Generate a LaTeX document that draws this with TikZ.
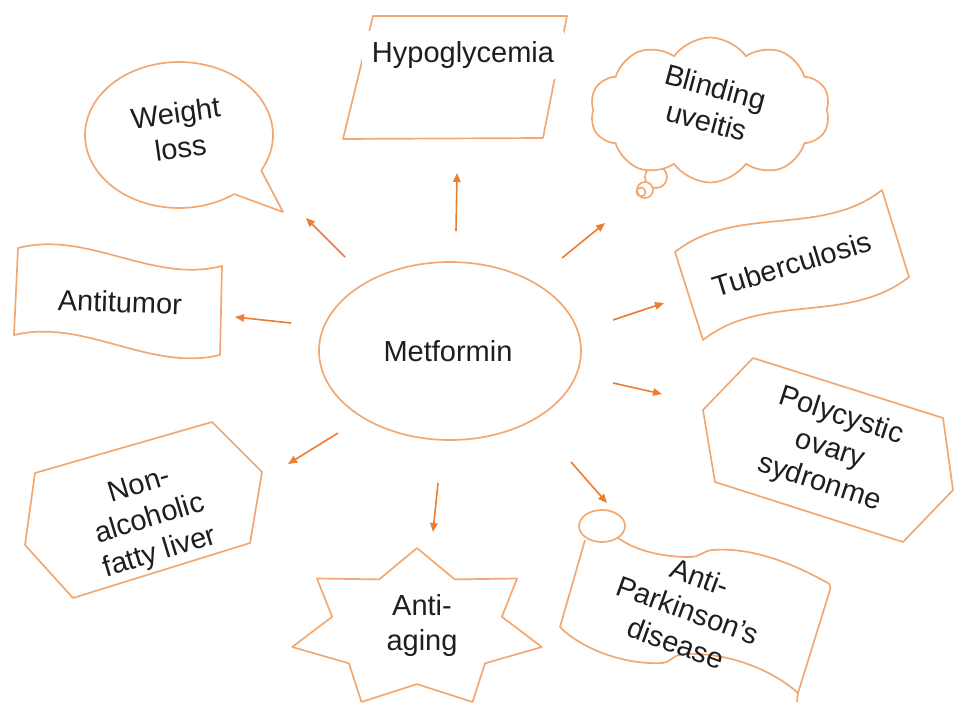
\documentclass[tikz,border=0pt]{standalone}
\usepackage{fontspec}
\setmainfont{Liberation Sans}
\usetikzlibrary{arrows.meta,shapes.geometric,shapes.symbols}
\definecolor{shapeorange}{RGB}{242,168,114}
\definecolor{arroworange}{RGB}{237,125,49}
\definecolor{txtgray}{RGB}{30,30,30}
\begin{document}
\begin{tikzpicture}[x=1pt,y=-1pt,
  outline/.style={draw=shapeorange,line width=1.7pt,line join=round},
  lbl/.style={text=txtgray,font=\fontsize{29}{35}\selectfont,align=center,inner sep=0pt},
  conn/.style={draw=arroworange,line width=1.6pt,-{Triangle[length=9pt,width=7.5pt]}}]
\useasboundingbox (0,0) rectangle (969,717);

% Metformin
\node[outline,ellipse,minimum width=262pt,minimum height=178pt,lbl] (met) at (450,351) {};
\node[lbl] (mettxt) at (448,351) {Metformin};

% Hypoglycemia
\draw[outline] (373,16) -- (567,16) -- (543,138) -- (343,139) -- cycle;
\node[lbl,fill=white,minimum height=48pt,inner xsep=10pt] (hypo) at (463,55) {Hypoglycemia};

% Weight loss bubble
\draw[outline] plot[domain=-306:29,samples=90] ({179+94*cos(\x)},{135+73*sin(\x)}) -- (283,212) -- cycle;
\node[lbl,rotate=8] (wl) at (178,130) {Weight\\loss};

% Blinding uveitis cloud
\draw[outline,fill=white] (656,177) circle[radius=11pt];
\draw[outline,fill=white] (645,190) circle[radius=8pt];
\draw[outline] (641,192) circle[radius=4.5pt];
\node[cloud,outline,fill=white,cloud puffs=10,cloud puff arc=110,aspect=1.65,minimum width=240pt,minimum height=145pt,inner sep=0pt] (cloudshape) at (710,110) {};
\node[lbl,rotate=-15] (bu) at (711,104) {Blinding\\uveitis};

% Tuberculosis wave
\draw[outline] (675,252) .. controls (736,204) and (821,238) .. (882,190) -- (909,277) .. controls (848,325) and (764,292) .. (703,340) -- cycle;
\node[lbl,rotate=17] (tb) at (792,264) {Tuberculosis};

% Antitumor wave
\draw[outline] (18,248) .. controls (88,230) and (152,284) .. (222,266) -- (220,355) .. controls (149,372) and (85,318) .. (14,335) -- cycle;
\node[lbl,rotate=-2] (at) at (120,302) {Antitumor};

% Polycystic hexagon
\draw[outline] (753,358) -- (943,418) -- (953,490) -- (903,542) -- (715,482) -- (703,410) -- cycle;
\node[lbl,rotate=-18] (pcos) at (830,450) {Polycystic\\ovary\\sydronme};

% Non-alcoholic hexagon
\draw[outline] (212,422) -- (262,472) -- (250,543) -- (73,598) -- (25,545) -- (35,473) -- cycle;
\node[lbl,rotate=17] (nafld) at (150,520) {Non-\\alcoholic\\fatty liver};

% Anti-aging star
\draw[outline] plot[samples at={0,...,13},variable=\k] ({417+(1-0.32*mod(\k,2))*128*cos(90+\k*180/7)},{629-(1-0.32*mod(\k,2))*81*sin(90+\k*180/7)}) -- cycle;
\node[lbl] (aa) at (422,625) {Anti-\\aging};

% Anti-Parkinson scroll
\draw[outline] (585,540) -- (560,627) .. controls (585,652) and (630,665) .. (662,663) .. controls (672,662) and (672,655) .. (684,654) .. controls (725,652) and (770,668) .. (798,693) -- (830,590) .. controls (831,585) and (829,583) .. (826,582) .. controls (790,562) and (750,547) .. (712,550) .. controls (703,551) and (700,557) .. (690,557) .. controls (660,557) and (635,550) .. (618,538);
\draw[outline] (798,693) -- (797,702);
\draw[outline,fill=white] (602,526) ellipse [x radius=23pt,y radius=16pt];
\node[lbl,rotate=-20] (pk) at (688,610) {Anti-\\Parkinson's\\disease};

% Arrows
\coordinate (s1) at (345,257); \coordinate (e1) at (306,218);
\coordinate (s2) at (456,231); \coordinate (e2) at (457,173);
\coordinate (s3) at (562,258); \coordinate (e3) at (605,223);
\coordinate (s4) at (613,320); \coordinate (e4) at (664,303);
\coordinate (s5) at (613,383); \coordinate (e5) at (662,394);
\coordinate (s6) at (291,323); \coordinate (e6) at (235,317);
\coordinate (s7) at (338,433); \coordinate (e7) at (288,464);
\coordinate (s8) at (438,483); \coordinate (e8) at (433,532);
\coordinate (s9) at (571,462); \coordinate (e9) at (607,503);
\foreach \i in {1,...,9} { \draw[conn] (s\i) -- (e\i); }
\end{tikzpicture}
\end{document}
